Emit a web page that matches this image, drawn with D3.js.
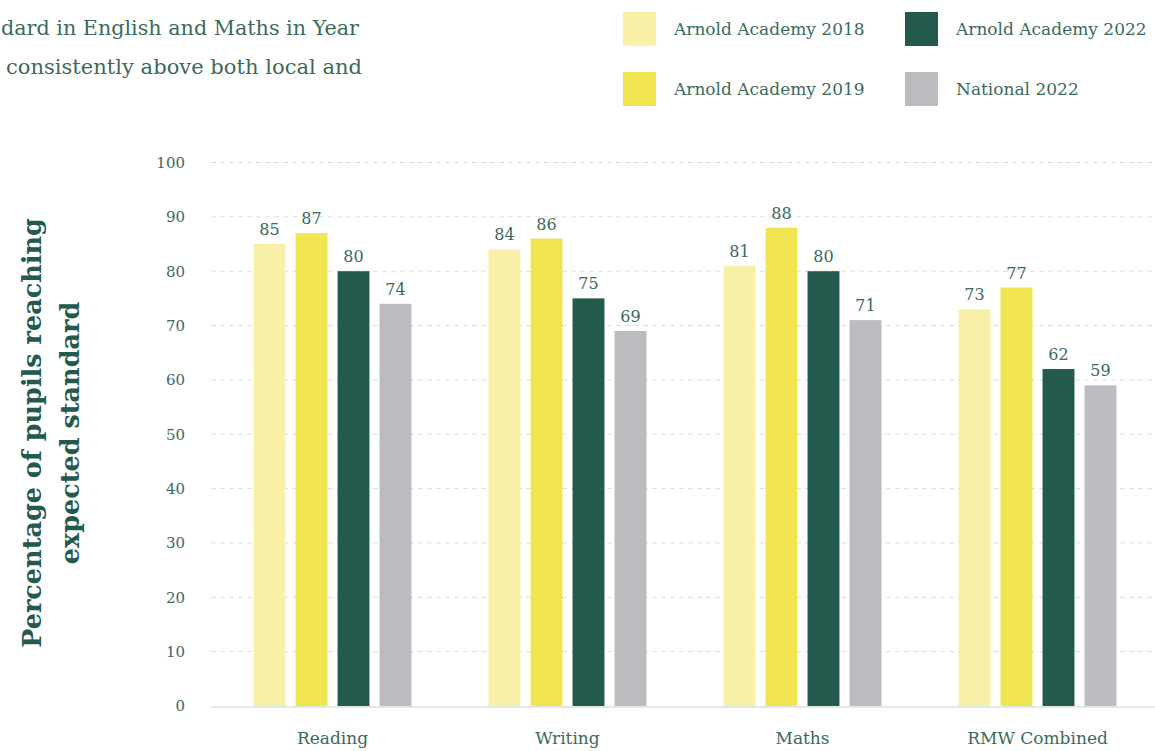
<!DOCTYPE html>
<html>
<head>
<meta charset="utf-8">
<script src="https://cdn.jsdelivr.net/npm/d3@7"></script>
<style>
  body { margin: 0; background: #fff; }
  svg { display: block; }
  text { font-family: "DejaVu Serif", serif; }
</style>
</head>
<body>
<div id="chart"></div>
<script>
// data
const categories = ["Reading", "Writing", "Maths", "RMW Combined"];
const seriesNames = ["Arnold Academy 2018", "Arnold Academy 2019", "Arnold Academy 2022", "National 2022"];
const academy2018 = [85, 84, 81, 73];
const academy2019 = [87, 86, 88, 77];
const academy2022 = [80, 75, 80, 62];
const national2022 = [74, 69, 71, 59];
const yTicks = [0, 10, 20, 30, 40, 50, 60, 70, 80, 90, 100];
// visible part of the intro paragraph
const introLines = [
  "dard in English and Maths in Year",
  "consistently above both local and"
];

const colors = ["#f8f0a9", "#f2e553", "#245a4e", "#bbbcbf"];
const textColor = "#3b6a5b";

const width = 1155;
const height = 751;

const seriesValues = [academy2018, academy2019, academy2022, national2022];
const table = categories.map((c, i) => ({
  category: c,
  values: seriesNames.map((s, j) => ({ series: s, value: seriesValues[j][i], idx: j }))
}));

const svg = d3.select("#chart")
  .append("svg")
  .attr("width", width)
  .attr("height", height);

// scales
const x0 = d3.scaleBand()
  .domain(categories)
  .range([215, 1155])
  .paddingInner(0.285)
  .paddingOuter(0.1425);

const x1 = d3.scaleBand()
  .domain(seriesNames)
  .range([0, x0.bandwidth()])
  .paddingInner(0.24)
  .paddingOuter(0.12);

const y = d3.scaleLinear()
  .domain([0, 100])
  .range([706, 162.5]);

// intro paragraph
svg.append("g")
  .selectAll("text")
  .data(introLines)
  .join("text")
  .attr("x", (d, i) => i == 0 ? 1 : 6)
  .attr("y", (d, i) => 35 + i * 39)
  .attr("fill", textColor)
  .attr("font-size", 20)
  .attr("textLength", (d, i) => i == 0 ? 358 : 356)
  .attr("lengthAdjust", "spacingAndGlyphs")
  .text(d => d);

// legend
const legend = svg.append("g");
const legendPos = [[623, 12], [623, 72], [905, 12], [905, 72]];
seriesNames.forEach((s, i) => {
  const g = legend.append("g").attr("transform", `translate(${legendPos[i][0]},${legendPos[i][1]})`);
  g.append("rect").attr("width", 33).attr("height", 34).attr("fill", colors[i]);
  g.append("text")
    .attr("x", 51)
    .attr("y", 17)
    .attr("dy", "0.35em")
    .attr("fill", textColor)
    .attr("font-size", 17)
    .text(s);
});

// gridlines
svg.append("g")
  .selectAll("line")
  .data(yTicks.filter(d => d > 0))
  .join("line")
  .attr("x1", 211)
  .attr("x2", width)
  .attr("y1", d => y(d))
  .attr("y2", d => y(d))
  .attr("stroke", "#d6e1dd")
  .attr("stroke-width", 1)
  .attr("stroke-dasharray", "5,4");

// y axis labels
const yAxis = svg.append("g")
  .attr("transform", "translate(185,0)")
  .call(d3.axisLeft(y).tickValues(yTicks).tickSize(0).tickPadding(0));
yAxis.select(".domain").remove();
yAxis.selectAll("text")
  .attr("fill", textColor)
  .attr("font-size", 15)
  .attr("font-family", "DejaVu Serif, serif");

// bars
const groups = svg.append("g")
  .selectAll("g")
  .data(table)
  .join("g")
  .attr("transform", d => `translate(${x0(d.category)},0)`);

groups.selectAll("rect")
  .data(d => d.values)
  .join("rect")
  .attr("x", d => x1(d.series))
  .attr("y", d => y(d.value))
  .attr("width", x1.bandwidth())
  .attr("height", d => y(0) - y(d.value))
  .attr("fill", d => colors[d.idx]);

groups.selectAll("text")
  .data(d => d.values)
  .join("text")
  .attr("x", d => x1(d.series) + x1.bandwidth() / 2)
  .attr("y", d => y(d.value) - 9)
  .attr("text-anchor", "middle")
  .attr("fill", textColor)
  .attr("font-size", 16)
  .text(d => d.value);

// baseline
svg.append("line")
  .attr("x1", 211)
  .attr("x2", width)
  .attr("y1", y(0) + 1)
  .attr("y2", y(0) + 1)
  .attr("stroke", "#e2e8e6")
  .attr("stroke-width", 2);

// x axis labels
const xAxis = svg.append("g")
  .attr("transform", `translate(0,${y(0)})`)
  .call(d3.axisBottom(x0).tickSize(0).tickPadding(0));
xAxis.select(".domain").remove();
xAxis.selectAll("text")
  .attr("y", 32)
  .attr("dy", "0.35em")
  .attr("fill", textColor)
  .attr("font-size", 17)
  .attr("font-family", "DejaVu Serif, serif");

// y axis title
const title = svg.append("text")
  .attr("transform", "translate(0,433) rotate(-90)")
  .attr("text-anchor", "middle")
  .attr("fill", "#245a4e")
  .attr("font-size", 25.5)
  .attr("font-weight", "bold");
title.append("tspan").attr("x", 0).attr("y", 41).text("Percentage of pupils reaching");
title.append("tspan").attr("x", 0).attr("y", 79).text("expected standard");
</script>
</body>
</html>
